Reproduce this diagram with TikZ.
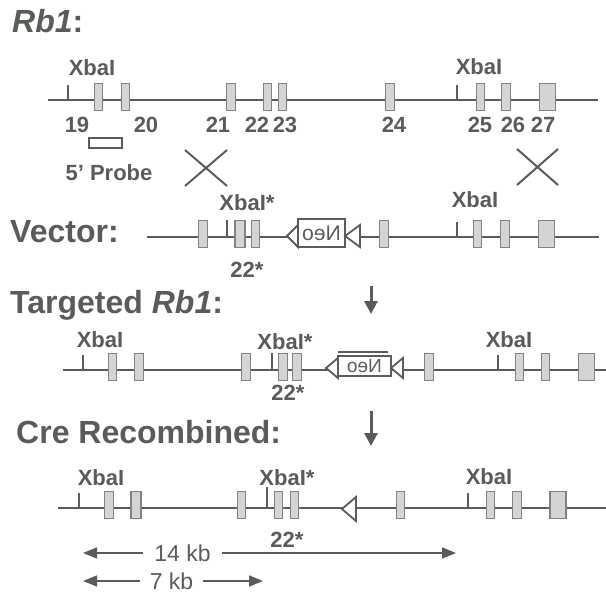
\documentclass[tikz,border=0pt]{standalone}
\usepackage{fontspec}
\usepackage{graphicx}
\setmainfont{Liberation Sans}
\usepackage{tikz}
\usetikzlibrary{arrows.meta, positioning}
\definecolor{ink}{RGB}{88,93,88}
\definecolor{exfill}{RGB}{212,212,212}
\definecolor{exdraw}{RGB}{128,132,128}

\begin{document}
\begin{tikzpicture}[x=1pt, y=-1pt,
  dna/.style={draw=ink, line width=2.4pt},
  site/.style={draw=ink, line width=1.8pt},
  exon/.style={rectangle, draw=exdraw, fill=exfill, line width=1.4pt, minimum width=8.5pt, minimum height=27pt, inner sep=0pt},
  wideexon/.style={exon, minimum width=10pt},
  bigexon/.style={exon, minimum width=16pt},
  lbl/.style={text=ink, font=\fontsize{22}{24}\selectfont\bfseries, inner sep=0pt},
  title/.style={text=ink, font=\fontsize{32}{36}\selectfont\bfseries, inner sep=0pt, anchor=base west},
  neo/.style={rectangle, draw=ink, fill=white, line width=1.8pt, inner sep=0pt, text=ink},
  loxp/.style={draw=ink, fill=white, line width=1.8pt, line join=miter},
  cross/.style={draw=ink, line width=2pt},
  down/.style={draw=ink, line width=3pt, -{Triangle[length=13pt,width=13pt]}},
  span/.style={draw=ink, line width=1.6pt, -{Triangle[length=14pt,width=11pt]}},
  kb/.style={text=ink, font=\fontsize{23}{26}\selectfont, inner sep=0pt}
]
  \fill[white] (0,0) rectangle (606,594);
  \useasboundingbox (0,0) rectangle (606,594);

  % Rb1 locus
  \node[title] (tRb) at (12,33) {\textit{Rb1}:};
  \coordinate (r1s) at (48,100);
  \coordinate (r1e) at (598,100);
  \draw[dna] (r1s) -- (r1e);
  \coordinate (r1x1) at (68,100);
  \coordinate (r1x2) at (457,100);
  \draw[site] (r1x1) -- ++(0,-15);
  \draw[site] (r1x2) -- ++(0,-15);
  \node[exon] (r19) at (98.5,97) {};
  \node[exon] (r20) at (125.5,97) {};
  \node[exon] (r21) at (231,97) {};
  \node[exon] (r22) at (267.5,97) {};
  \node[exon] (r23) at (282.5,97) {};
  \node[exon] (r24) at (390,97) {};
  \node[exon] (r25) at (480.5,97) {};
  \node[exon] (r26) at (506,97) {};
  \node[bigexon] (r27) at (547.5,97) {};
  \node[lbl] (l19) at (77,125) {19};
  \node[lbl] (l20) at (146,125) {20};
  \node[lbl] (l21) at (218,125) {21};
  \node[lbl] (l22) at (257,125) {22};
  \node[lbl] (l23) at (285,125) {23};
  \node[lbl] (l24) at (394,125) {24};
  \node[lbl] (l25) at (480,125) {25};
  \node[lbl] (l26) at (513,125) {26};
  \node[lbl] (l27) at (543,125) {27};
  \node[lbl] (r1xl1) at (92,68) {XbaI};
  \node[lbl] (r1xl2) at (479,67) {XbaI};
  \node[rectangle, draw=ink, fill=white, line width=1.6pt, minimum width=33pt, minimum height=10pt, inner sep=0pt] (probe) at (105.5,143) {};
  \node[lbl] (probel) at (109,173) {5' Probe};
  \draw[cross] (185,150) -- (227,186) (185,186) -- (227,150);
  \draw[cross] (517,149) -- (558,185) (517,185) -- (558,149);

  % targeting vector
  \node[title] (tVec) at (10,242) {Vector:};
  \coordinate (vs) at (147,237);
  \coordinate (ve) at (599,237);
  \draw[dna] (vs) -- (ve);
  \coordinate (vx1) at (227,237);
  \coordinate (vx2) at (457,237);
  \draw[site] (vx1) -- ++(0,-17);
  \draw[site] (vx2) -- ++(0,-15);
  \node[exon] (v1) at (203,234) {};
  \node[wideexon] (v2) at (240,234) {};
  \node[exon] (v3) at (255.5,234) {};
  \node[exon] (v4) at (384,234) {};
  \node[exon] (v5) at (477.5,234) {};
  \node[exon] (v6) at (505,234) {};
  \node[bigexon] (v7) at (546.5,234) {};
  \node[neo, minimum width=47pt, minimum height=28pt, font=\fontsize{21}{24}\selectfont] (vneo) at (321.5,233) {\scalebox{-1}[1]{Neo}};
  \draw[loxp] (287,236) -- (298,225) -- (298,247) -- cycle;
  \draw[loxp] (345,236) -- (360,225) -- (360,247) -- cycle;
  \node[lbl] (vxl1) at (247,203) {XbaI*};
  \node[lbl] (vxl2) at (475,200) {XbaI};
  \node[lbl] (v22) at (247,270) {22*};
  \coordinate (d1s) at (371,286);
  \coordinate (d1e) at (371,314);
  \draw[down] (d1s) -- (d1e);

  % targeted allele
  \node[title] (tTar) at (10,313) {Targeted \textit{Rb1}:};
  \coordinate (ts) at (63,370);
  \coordinate (te) at (606,370);
  \draw[dna] (ts) -- (te);
  \coordinate (tx1) at (83,370);
  \coordinate (tx2) at (272,370);
  \coordinate (tx3) at (498,370);
  \draw[site] (tx1) -- ++(0,-15);
  \draw[site] (tx2) -- ++(0,-17);
  \draw[site] (tx3) -- ++(0,-15);
  \node[exon] (t1) at (112.5,367) {};
  \node[exon] (t2) at (139,367) {};
  \node[exon] (t3) at (246,367) {};
  \node[exon] (t4) at (283,367) {};
  \node[exon] (t5) at (297,367) {};
  \node[exon] (t6) at (429,367) {};
  \node[exon] (t7) at (519.5,367) {};
  \node[exon] (t8) at (545.5,367) {};
  \node[bigexon] (t9) at (586.5,367) {};
  \node[neo, minimum width=53pt, minimum height=20pt, font=\fontsize{19}{22}\selectfont] (tneo) at (364.5,366) {\scalebox{-1}[1]{Neo}};
  \draw[ink, line width=1.8pt] (338,352) -- (388,352);
  \draw[loxp] (326,368) -- (338,358) -- (338,378) -- cycle;
  \draw[loxp] (391,368) -- (403,358) -- (403,378) -- cycle;
  \node[lbl] (txl1) at (100,340) {XbaI};
  \node[lbl] (txl2) at (285,342) {XbaI*};
  \node[lbl] (txl3) at (509,340) {XbaI};
  \node[lbl] (t22) at (288,393) {22*};
  \coordinate (d2s) at (371,411);
  \coordinate (d2e) at (371,446);
  \draw[down] (d2s) -- (d2e);

  % Cre recombined allele
  \node[title] (tCre) at (16,443) {Cre Recombined:};
  \coordinate (cs) at (58,508);
  \coordinate (ce) at (606,508);
  \draw[dna] (cs) -- (ce);
  \coordinate (cx1) at (79,508);
  \coordinate (cx2) at (267,508);
  \coordinate (cx3) at (468,508);
  \draw[site] (cx1) -- ++(0,-15);
  \draw[site] (cx2) -- ++(0,-21);
  \draw[site] (cx3) -- ++(0,-15);
  \node[exon] (c1) at (109,505) {};
  \node[wideexon] (c2) at (136,505) {};
  \node[exon] (c3) at (241.5,505) {};
  \node[exon] (c4) at (278.5,505) {};
  \node[exon] (c5) at (294.5,505) {};
  \node[exon] (c6) at (400.5,505) {};
  \node[exon] (c7) at (490.5,505) {};
  \node[exon] (c8) at (517,505) {};
  \node[bigexon] (c9) at (558,505) {};
  \draw[loxp] (342,509) -- (356,497) -- (356,521) -- cycle;
  \node[lbl] (cxl1) at (101,478) {XbaI};
  \node[lbl] (cxl2) at (287,478) {XbaI*};
  \node[lbl] (cxl3) at (489,477) {XbaI};
  \node[lbl] (c22) at (287,540) {22*};

  % fragment sizes
  \node[kb, minimum width=79pt] (kb14) at (182.5,553) {14 kb};
  \coordinate (kb14l) at (83,553);
  \coordinate (kb14r) at (456,553);
  \draw[span] (kb14) -- (kb14l);
  \draw[span] (kb14) -- (kb14r);
  \node[kb, minimum width=63pt] (kb7) at (171.5,581) {7 kb};
  \coordinate (kb7l) at (83,581);
  \coordinate (kb7r) at (263,581);
  \draw[span] (kb7) -- (kb7l);
  \draw[span] (kb7) -- (kb7r);
\end{tikzpicture}
\end{document}
